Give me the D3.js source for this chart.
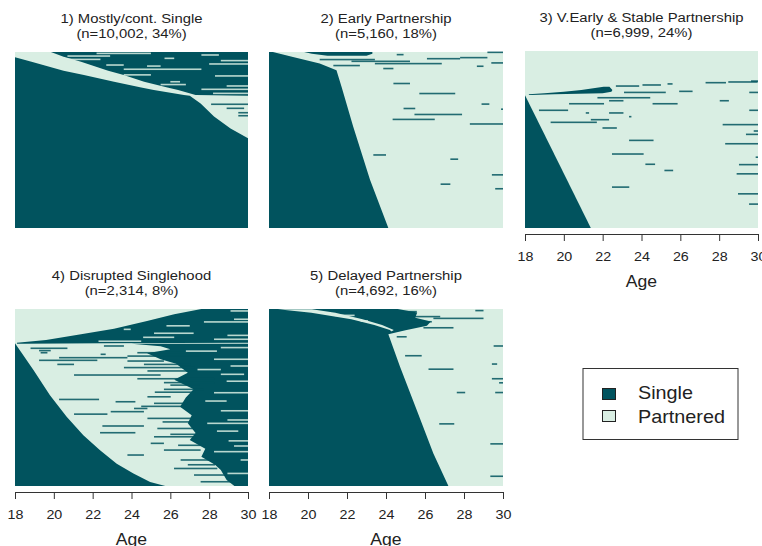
<!DOCTYPE html>
<html>
<head>
<meta charset="utf-8">
<script src="https://cdn.jsdelivr.net/npm/d3@7"></script>
<style>
  body { margin: 0; background: #fff; }
  text { font-family: "Liberation Sans", Arial, sans-serif; fill: #222; }
</style>
</head>
<body>
<svg id="chart" width="762" height="546"></svg>
<script>
// Data: sequence index plots, rows as % of cluster (0 = top), x = age
const ageTicks = [18, 20, 22, 24, 26, 28, 30];
const states = ["Single", "Partnered"];
const titles = ["1) Mostly/cont. Single", "2) Early Partnership", "3) V.Early & Stable Partnership", "4) Disrupted Singlehood", "5) Delayed Partnership"];
const counts = ["10,002", "5,160", "6,999", "2,314", "4,692"];
const shares = [34, 18, 24, 8, 16];
const baseState = ["S", "P", "P", "P", "P"];

// regions: [row %, age from, age to]
const p1Partnered = [[0, 18, 19.85], [2.7, 18, 20.5], [3.0, 18, 20.6], [5.5, 18.85, 21.4], [10.6, 20.5, 22.8], [13.1, 21.55, 23.6], [16.9, 23.1, 24.65], [20.1, 24.5, 25.85], [21.6, 25.15, 26.4], [24.4, 26.7, 27.3], [24.9, 27.0, 30], [29.2, 27.56, 30], [36.7, 28.25, 30], [43.4, 29.1, 30], [49.0, 30, 30]];
const p2Single = [[0, 18, 18.2], [2.8, 18, 19.23], [6.6, 18, 20.6], [10.4, 18, 21.46], [19.8, 18, 21.72], [42.5, 18, 22.32], [72.6, 18, 23.18], [100, 18, 24.12]];
const p2SingleTop = [[0, 19.8, 23.3], [1.0, 20.2, 23.3], [2.2, 21.0, 23.0]];
const p3Single = [[25, 18, 18], [62.5, 18, 19.7], [100, 18, 21.39]];
const p3SingleWedge = [[20.2, 22.05, 22.35], [22.0, 20.9, 22.5], [23.0, 20.0, 22.45], [23.8, 19.0, 22.0], [24.5, 18.2, 19.5], [24.8, 18.2, 18.3]];
const p4Single = [[19.4, 18, 18], [34.5, 18, 18.95], [48.7, 18, 19.8], [60.9, 18, 20.66], [71.3, 18, 21.52], [79.8, 18, 22.38], [87.4, 18, 23.24], [93, 18, 24.1], [97.7, 18, 24.96], [100, 18, 25.74]];
const p4SingleTop = [[0, 27.6, 30], [3.0, 26.2, 30], [6.8, 24.8, 30], [11.1, 23.1, 30], [14.3, 21.4, 30], [17.5, 19.6, 30], [19.0, 18.1, 30], [19.4, 18.1, 22.5], [19.7, 18.1, 18.4]];
const p4SingleLate = [[19.6, 24.0, 30], [21, 25.5, 30], [22.8, 26.0, 30], [25, 24.8, 30], [28.4, 25.5, 30], [31, 26.3, 30], [36, 26.9, 30], [40, 26.2, 30], [45.4, 27.2, 30], [50, 26.8, 30], [55.2, 26.5, 30], [60, 27.1, 30], [64.6, 26.9, 30], [70, 27.3, 30], [74, 27.0, 30], [79, 27.8, 30], [83.5, 27.6, 30], [88, 28.3, 30], [91, 28.6, 30], [96.6, 28.9, 30], [100, 29.3, 30]];
const p5Single = [[0, 18, 24.6], [2, 18, 25.6], [5, 18, 25.5], [7, 18, 26.3], [9.5, 18, 26.1], [12, 18, 25.0], [14.2, 18, 24.12], [32.6, 18, 24.72], [57.2, 18, 25.58], [81.7, 18, 26.43], [100, 18, 27.2]];
const p5PartneredBrief = [[0.2, 18.46, 20.2], [2.1, 20.17, 21.4], [5.8, 22.22, 22.8], [9, 23.4, 23.8], [11.9, 24.2, 24.4], [12.5, 24.27, 24.3]];

// single spells: [row %, age from, age to, state]
const p1Spells = [[2.3, 20.7, 22.9, "P"], [4.2, 20.7, 22.4, "P"], [0.8, 22.2, 25.0, "P"], [3.6, 25.7, 26.2, "P"], [1.7, 27.6, 28.5, "P"], [4.9, 28.6, 30, "P"], [6.8, 28.0, 30, "P"], [8.0, 24.8, 25.5, "P"], [7.4, 22.7, 23.6, "P"], [9.8, 23.6, 27.6, "P"], [13.0, 23.6, 25.0, "P"], [13.6, 28.3, 30, "P"], [16.9, 26.0, 26.5, "P"], [18.5, 25.5, 26.8, "P"], [19.3, 28.9, 30, "P"], [21.2, 27.6, 30, "P"], [23.5, 28.2, 30, "P"], [29.7, 28.1, 30, "S"], [32.0, 28.9, 29.8, "S"], [34.5, 29.5, 30, "S"], [36.2, 29.5, 30, "S"]];
const p2Spells = [[17.9, 24.38, 25.23, "S"], [23.6, 25.71, 27.55, "S"], [32.1, 24.9, 25.5, "S"], [35.5, 25.46, 27.9, "S"], [38.3, 24.34, 26.5, "S"], [40.9, 28.3, 30, "S"], [29.6, 28.9, 29.3, "S"], [32.5, 29.9, 30, "S"], [58.5, 23.35, 24.0, "S"], [60.9, 27.3, 27.7, "S"], [69.8, 29.43, 30, "S"], [75.1, 26.8, 27.3, "S"], [77.7, 29.6, 30, "S"], [0.2, 29.2, 30, "S"], [1.5, 24.55, 24.9, "S"], [6.2, 29.4, 30, "S"], [8.1, 28.66, 29.0, "S"], [4.3, 20.6, 23.43, "S"], [5.3, 22.23, 25.23, "S"], [6.6, 23.43, 26.86, "S"], [3.8, 26.1, 27.8, "S"], [7.7, 21.3, 22.66, "S"], [9.4, 23.86, 24.38, "S"], [3.2, 27.8, 29.2, "S"]];
const p3Spells = [[19.8, 22.68, 23.88, "S"], [19.2, 24.05, 25.0, "S"], [18.6, 25.34, 25.6, "S"], [17.9, 27.3, 28.35, "S"], [17.5, 28.47, 29.98, "S"], [17.0, 29.64, 30, "S"], [23.4, 23.1, 25.25, "S"], [22.8, 25.94, 26.63, "S"], [23.4, 29.55, 30, "S"], [26.4, 21.73, 24.45, "S"], [28.1, 22.33, 23.07, "S"], [29.8, 20.27, 22.07, "S"], [29.8, 24.57, 25.86, "S"], [28.1, 28.03, 28.5, "S"], [33.5, 18.72, 20.22, "S"], [35.0, 21.13, 21.3, "S"], [35.0, 22.33, 23.07, "S"], [33.5, 29.55, 30, "S"], [37.1, 23.36, 23.48, "S"], [38.8, 21.39, 22.33, "S"], [40.3, 19.32, 21.7, "S"], [43.5, 21.99, 22.73, "S"], [41.6, 28.18, 30, "S"], [45.2, 29.78, 30, "S"], [47.1, 29.38, 30, "S"], [50.5, 23.36, 24.62, "S"], [52.4, 28.31, 30, "S"], [58.2, 22.48, 24.11, "S"], [64.0, 24.2, 24.7, "S"], [67.5, 25.18, 25.63, "S"], [76.9, 22.48, 23.37, "S"], [60.0, 29.88, 30, "S"], [64.2, 29.02, 30, "S"], [69.4, 28.9, 30, "S"], [80.7, 28.97, 30, "S"], [86.5, 29.54, 30, "S"]];
const p4Spells = [[1.1, 29.1, 30, "P"], [7.3, 27.73, 30, "P"], [11.5, 23.6, 23.96, "P"], [5.8, 29.28, 30, "P"], [14.9, 28.94, 30, "P"], [13.7, 25.16, 27.2, "P"], [17.1, 28.25, 30, "P"], [9.5, 25.8, 27.0, "P"], [16.0, 24.6, 26.2, "P"], [18.2, 22.3, 24.5, "P"],
  [22.2, 18.8, 20.7, "S"], [23.5, 19.24, 19.84, "S"], [24.7, 19.32, 19.67, "S"], [20.9, 22.58, 23.61, "S"], [25.6, 22.41, 22.67, "S"], [29.0, 19.24, 22.24, "S"], [27.5, 20.27, 23.79, "S"], [31.3, 20.18, 21.04, "S"], [29.4, 23.79, 25.67, "S"], [26.6, 23.79, 27.56, "S"], [24.7, 24.3, 27.56, "S"], [37.3, 21.04, 25.5, "S"], [33.1, 23.61, 27.22, "S"], [41.6, 25.67, 28.25, "S"], [39.4, 24.3, 28.25, "S"], [45.4, 25.67, 27.73, "S"], [31.3, 24.64, 27.05, "S"], [35.0, 24.82, 27.9, "S"], [43.0, 26.0, 27.5, "S"], [21.8, 28.6, 30, "P"], [28.4, 28.25, 30, "P"], [32.2, 29.1, 30, "P"], [36.9, 28.6, 29.8, "P"], [23.8, 26.8, 28.4, "P"], [34.2, 27.4, 28.6, "P"], [40.8, 28.9, 30, "P"],
  [51.1, 20.27, 22.33, "S"], [52.4, 23.18, 24.2, "S"], [59.4, 21.04, 22.76, "S"], [58.0, 22.93, 24.64, "S"], [56.2, 24.13, 24.82, "S"], [66.1, 22.5, 24.64, "S"], [69.9, 22.38, 24.2, "S"], [82.5, 23.79, 24.64, "S"], [75.9, 24.99, 25.67, "S"], [61.8, 24.82, 27.2, "S"], [67.5, 25.33, 27.2, "S"], [72.2, 25.16, 27.2, "S"], [79.7, 25.67, 27.56, "S"], [85.3, 26.53, 28.6, "S"], [90.1, 26.19, 28.42, "S"], [93.8, 27.22, 28.94, "S"], [97.6, 27.56, 29.62, "S"], [49.6, 24.82, 26.02, "S"], [53.3, 25.16, 26.88, "S"], [47.0, 25.2, 27.3, "S"], [55.0, 24.5, 26.6, "S"], [63.8, 25.6, 27.0, "S"], [70.8, 26.0, 27.3, "S"], [77.0, 26.4, 27.8, "S"], [88.0, 26.9, 28.3, "S"],
  [47.3, 28.25, 30, "P"], [62.7, 28.94, 30, "P"], [64.6, 27.9, 30, "P"], [77.4, 29.28, 30, "P"], [80.6, 28.25, 30, "P"], [92.9, 28.94, 30, "P"], [85.3, 29.62, 30, "P"], [52.0, 27.8, 28.9, "P"], [57.5, 28.6, 30, "P"], [69.0, 28.4, 29.5, "P"], [74.5, 29.0, 30, "P"]];
const p5Spells = [[1.5, 24.72, 25.58, "S"], [0.9, 28.58, 29.0, "S"], [4.3, 25.06, 26.78, "S"], [5.3, 26.43, 29.0, "S"], [7.2, 25.32, 26.35, "S"], [10.6, 25.92, 27.46, "S"], [15.7, 24.55, 25.06, "S"], [26.4, 24.98, 25.83, "S"], [34.0, 26.18, 27.46, "S"], [20.9, 29.52, 30, "S"], [31.1, 29.43, 29.7, "S"], [39.4, 29.43, 30, "S"], [41.7, 29.8, 30, "S"], [47.2, 27.63, 28.06, "S"], [47.2, 29.6, 30, "S"], [64.9, 26.73, 27.5, "S"], [76.2, 29.35, 30, "S"], [94.5, 29.35, 30, "S"], [3.6, 21.37, 22.39, "P"], [6.8, 22.7, 23.08, "P"]];

const svg = d3.select("#chart");
const color = { S: "#01535e", P: "#d9eee3" };

// Settings (panel boxes)
const boxes = [
  { x: 15, y: 52, w: 233, h: 176, axis: false },
  { x: 269, y: 52, w: 234, h: 176, axis: false },
  { x: 525, y: 51, w: 233, h: 177, axis: true },
  { x: 15, y: 309, w: 233, h: 177, axis: true },
  { x: 269, y: 309, w: 234, h: 177, axis: true },
];
const regions = [
  [[p1Partnered, "P"]],
  [[p2Single, "S"], [p2SingleTop, "S"]],
  [[p3Single, "S"], [p3SingleWedge, "S"]],
  [[p4Single, "S"], [p4SingleTop, "S"], [p4SingleLate, "S"]],
  [[p5Single, "S"], [p5PartneredBrief, "P"]],
];
const spells = [p1Spells, p2Spells, p3Spells, p4Spells, p5Spells];

const label = (g, x, y, txt, size, anchor) =>
  g.append("text")
    .attr("transform", `translate(${x},${y}) scale(1.1,1)`)
    .attr("text-anchor", anchor || "middle")
    .attr("font-size", size + "px")
    .text(txt);

boxes.forEach((b, i) => {
  const xScale = d3.scaleLinear().domain([18, 30]).range([b.x, b.x + b.w]);
  const yScale = d3.scaleLinear().domain([0, 100]).range([b.y, b.y + b.h]);
  const g = svg.append("g");

  // background = dominant state
  g.append("rect")
    .attr("x", xScale(18)).attr("y", yScale(0))
    .attr("width", xScale(30) - xScale(18))
    .attr("height", yScale(100) - yScale(0))
    .attr("fill", color[baseState[i]]);

  const area = d3.area()
    .y((d) => yScale(d[0]))
    .x0((d) => xScale(d[1]))
    .x1((d) => xScale(d[2]));

  regions[i].forEach(([rows, st]) => {
    g.append("path").attr("d", area(rows)).attr("fill", color[st]);
  });

  g.selectAll("rect.spell")
    .data(spells[i])
    .enter()
    .append("rect")
    .attr("class", "spell")
    .attr("x", (d) => xScale(d[1]))
    .attr("y", (d) => yScale(d[0]) - 0.8)
    .attr("width", (d) => xScale(d[2]) - xScale(d[1]))
    .attr("height", 1.6)
    .attr("fill", (d) => color[d[3]])
    .attr("opacity", 0.85);

  // Titles
  const cx = b.x + b.w / 2;
  label(g, cx, b.y - 29, titles[i], 13.5);
  label(g, cx, b.y - 14, `(n=${counts[i]}, ${shares[i]}%)`, 13.5);

  // x-Axis
  if (b.axis) {
    const bottom = b.y + b.h;
    const xAxis = d3.axisBottom(xScale).tickValues(ageTicks).tickSize(7).tickSizeOuter(0).tickPadding(11);
    const axG = g.append("g").attr("transform", `translate(0,${bottom + 6})`).call(xAxis);
    axG.select(".domain").attr("stroke", "#333");
    axG.selectAll(".tick line").attr("stroke", "#333");
    axG.selectAll(".tick text")
      .attr("font-size", "13px")
      .attr("font-family", "Liberation Sans, Arial, sans-serif")
      .attr("fill", "#222")
      .attr("transform", "scale(1.1,1)");
    label(g, cx, bottom + 59, "Age", 16);
  }
});

// Legend
const lg = svg.append("g");
lg.append("rect").attr("x", 583).attr("y", 368.5).attr("width", 155).attr("height", 71)
  .attr("fill", "#fff").attr("stroke", "#333");
states.forEach((s, i) => {
  lg.append("rect").attr("x", 602.5).attr("y", 388.5 + i * 22).attr("width", 13).attr("height", 11)
    .attr("fill", color[s[0]]).attr("stroke", "#222");
  label(lg, 638, 398.5 + i * 24.5, s, 18, "start");
});
</script>
</body>
</html>
